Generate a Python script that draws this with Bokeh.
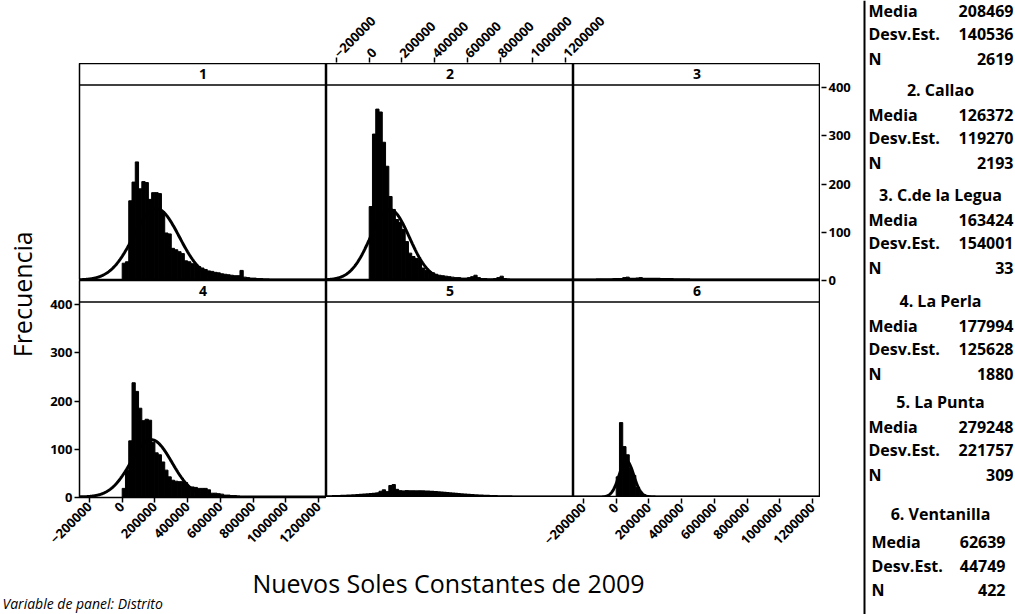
import numpy as np
from bokeh.plotting import figure
from bokeh.layouts import row, column
from bokeh.models import Range1d, FixedTicker, LinearAxis, Span, Label, BasicTickFormatter
from bokeh.core.properties import value
from bokeh.embed import file_html
from bokeh.resources import INLINE

# ---------------- data ----------------
panel_labels = ["1", "2", "3", "4", "5", "6"]
district_names = ["", "2. Callao", "3. C.de la Legua", "4. La Perla", "5. La Punta", "6. Ventanilla"]
medias = [208469, 126372, 163424, 177994, 279248, 62639]
desv_est = [140536, 119270, 154001, 125628, 221757, 44749]
n_obs = [2619, 2193, 33, 1880, 309, 422]

bin_width = 20000
bin_start = 0

counts_1 = [35, 38, 165, 204, 246, 190, 205, 203, 168, 182, 182, 180, 142, 98, 96, 66, 63, 59, 55, 40,
            38, 34, 32, 28, 25, 22, 19, 18, 16, 15, 13, 12, 11, 10, 9, 9, 20, 6, 5, 4, 4, 3, 3, 2, 2]
counts_2 = [153, 304, 356, 350, 287, 237, 174, 147, 126, 120, 105, 80, 56, 49, 45, 42, 25, 20, 17, 15,
            12, 10, 9, 8, 7, 6, 5, 5, 4, 4, 5, 7, 10, 5, 3, 3, 2, 2, 3, 5, 8, 3, 2, 1, 1, 1]
counts_3 = [1, 2, 5, 6, 3, 2, 4, 5, 2, 1, 1, 0, 1, 0, 0, 1]
counts_4 = [18, 55, 117, 238, 220, 185, 159, 162, 160, 114, 92, 88, 73, 56, 42, 35, 33, 32, 32, 30,
            21, 21, 20, 18, 18, 18, 15, 8, 8, 7, 6, 4, 4, 3, 3, 2, 1]
counts_5 = [1, 4, 8, 12, 15, 11, 24, 26, 16, 13, 12, 13, 12, 12, 11, 12, 11, 10, 10, 9,
            8, 8, 7, 7, 6, 5, 4, 4, 3, 3, 3, 2, 2, 2, 2, 1, 2, 1, 1, 1, 1, 1, 1, 1, 1,
            1, 1, 1, 0, 1, 1, 0, 1, 1, 0, 1, 0, 1, 1]
counts_6 = [42, 155, 105, 88, 60, 45, 20, 10, 5, 3, 2, 2, 1, 1]
all_counts = [counts_1, counts_2, counts_3, counts_4, counts_5, counts_6]

x_tick_values = [-200000, 0, 200000, 400000, 600000, 800000, 1000000, 1200000]
y_tick_values = [0, 100, 200, 300, 400]

x_title = "Nuevos Soles Constantes de 2009"
y_title = "Frecuencia"
footnote = "Variable de panel: Distrito"

# ---------------- layout constants ----------------
FW, FH = 247, 217
X0, X1 = -261000, 1249000
Y0, Y1 = -1, 451
STRIP = 406
YL_W = 44            # y-title column
LEFT_B, RIGHT_B = 35, 40
TOP_H = 63           # band above grid holding the top axis
BOT_H = 60           # band below grid holding bottom axes
FONT = "Open Sans"
TOTAL_W, TOTAL_H = 1015, 614
GRID_W = LEFT_B + 3 * FW
LEFT_W = YL_W + GRID_W + RIGHT_B
MAIN_H = TOP_H + 2 * FH + BOT_H
FOOT_H = TOTAL_H - MAIN_H


def style_axis(ax, size="13px"):
    ax.axis_line_color = None
    ax.major_tick_in = 0
    ax.major_tick_out = 5
    ax.major_tick_line_color = "black"
    ax.major_tick_line_width = 1.5
    ax.minor_tick_line_color = None
    ax.major_label_standoff = 2
    ax.major_label_text_font = FONT
    ax.major_label_text_font_size = size
    ax.major_label_text_font_style = "bold"
    ax.major_label_text_color = "black"


def x_axis():
    ax = LinearAxis(ticker=FixedTicker(ticks=x_tick_values),
                    formatter=BasicTickFormatter(use_scientific=False))
    style_axis(ax, "13px")
    ax.major_label_orientation = np.pi / 4
    return ax


def y_axis():
    ax = LinearAxis(ticker=FixedTicker(ticks=y_tick_values))
    style_axis(ax, "13px")
    return ax


def make_panel(i, bl, br, bb):
    p = figure(frame_width=FW, frame_height=FH,
               x_range=Range1d(X0, X1), y_range=Range1d(Y0, Y1),
               x_axis_location=None, y_axis_location=None,
               min_border_left=bl, min_border_right=br, min_border_top=0, min_border_bottom=bb,
               toolbar_location=None, output_backend="svg",
               background_fill_color="white", border_fill_color="white")
    p.grid.visible = False
    p.outline_line_color = "black"
    p.outline_line_width = 1.5
    counts = np.array(all_counts[i], dtype=float)
    left = bin_start + bin_width * np.arange(len(counts))
    p.quad(left=left, right=left + bin_width, bottom=0, top=counts,
           fill_color="black", line_color="black", line_width=1)
    xs = np.linspace(X0, X1, 600)
    sd = desv_est[i]
    ys = n_obs[i] * bin_width / (sd * np.sqrt(2 * np.pi)) * np.exp(-0.5 * ((xs - medias[i]) / sd) ** 2)
    p.line(xs, ys, line_width=3, color="black")
    p.add_layout(Span(location=STRIP, dimension="width", line_color="black", line_width=1.5))
    p.add_layout(Label(x=(X0 + X1) / 2, y=(STRIP + Y1) / 2, text=panel_labels[i],
                       text_align="center", text_baseline="middle",
                       text_font=FONT, text_font_size="14px", text_font_style="bold",
                       text_color="black"))
    return p


def holder(fw, fh, yr, bl, br, bt, bb):
    f = figure(frame_width=fw, frame_height=fh,
               x_range=Range1d(X0, X1), y_range=yr,
               x_axis_location=None, y_axis_location=None,
               min_border_left=bl, min_border_right=br, min_border_top=bt, min_border_bottom=bb,
               toolbar_location=None, output_backend="svg")
    f.grid.visible = False
    f.outline_line_color = None
    return f


p1 = make_panel(0, LEFT_B, 0, 0)
p2 = make_panel(1, 0, 0, 0)
p3 = make_panel(2, 0, 0, 0)
p4 = make_panel(3, LEFT_B, 0, BOT_H)
p5 = make_panel(4, 0, 0, 0)
p6 = make_panel(5, 0, 0, 0)

p4.add_layout(y_axis(), "left")
p4.add_layout(x_axis(), "below")

# top axis (panel 2's scale) in its own band so labels are not clipped
top_fig = holder(FW, 1, Range1d(0, 1), LEFT_B + FW, FW, TOP_H - 1, 0)
top_fig.add_layout(x_axis(), "above")

# bottom axis of panel 6, in a band that also spans under panel 5
bot6 = holder(FW, 1, Range1d(0, 1), FW, 0, 0, BOT_H - 1)
bot6.add_layout(x_axis(), "below")

# right y axis of panel 3, in a band at the right of the grid
right_fig = holder(1, FH, Range1d(Y0, Y1), 0, RIGHT_B - 1, TOP_H, 30)
right_fig.add_layout(y_axis(), "right")


def blank(w, h):
    f = figure(width=w, height=h, x_range=Range1d(0, w), y_range=Range1d(0, h),
               x_axis_location=None, y_axis_location=None, min_border=0,
               toolbar_location=None, output_backend="svg")
    f.grid.visible = False
    f.outline_line_color = None
    return f


# y title
yl = blank(YL_W, MAIN_H)
yl.text(x=[21], y=[MAIN_H - 277], text=[y_title], angle=np.pi / 2,
        text_align="center", text_baseline="middle",
        text_font=value(FONT), text_font_size="25px", text_color="black")

grid = column(top_fig,
              row(p1, p2, p3),
              row(p4, column(row(p5, p6), bot6)))

foot = blank(LEFT_W, FOOT_H)
foot.text(x=[448], y=[FOOT_H - 25], text=[x_title], text_align="center", text_baseline="middle",
          text_font=value(FONT), text_font_size="25px", text_color="black")
foot.text(x=[2], y=[FOOT_H - 36], text=[footnote], text_align="left", text_baseline="top",
          text_font=value(FONT), text_font_size="14px", text_font_style="italic", text_color="black")

# stats box
SW = TOTAL_W - LEFT_W
st = blank(SW, TOTAL_H)
st.segment(x0=[4], y0=[0], x1=[4], y1=[TOTAL_H], line_color="black", line_width=2)
group_top = [-15, 89, 194, 300, 401, 513]
for g in range(6):
    off = [25, 48, 73] if g < 5 else [28, 52, 76]
    lx = 8 if g < 5 else 11
    vx = 153 if g < 5 else 145
    rows_ = [("Media", str(medias[g])), ("Desv.Est.", str(desv_est[g])), ("N", str(n_obs[g]))]
    if district_names[g]:
        st.text(x=[80], y=[TOTAL_H - group_top[g]], text=[district_names[g]],
                text_align="center", text_baseline="middle", text_font=value(FONT),
                text_font_size="16px", text_font_style="bold", text_color="black")
    for (lab, val), o in zip(rows_, off):
        yy = TOTAL_H - (group_top[g] + o)
        st.text(x=[lx], y=[yy], text=[lab], text_align="left", text_baseline="middle",
                text_font=value(FONT), text_font_size="16px", text_font_style="bold", text_color="black")
        st.text(x=[vx], y=[yy], text=[val], text_align="right", text_baseline="middle",
                text_font=value(FONT), text_font_size="16px", text_font_style="bold", text_color="black")

left_block = column(row(yl, grid, right_fig), foot)
layout = row(left_block, st)

open("out.html", "w").write(file_html(layout, INLINE))
